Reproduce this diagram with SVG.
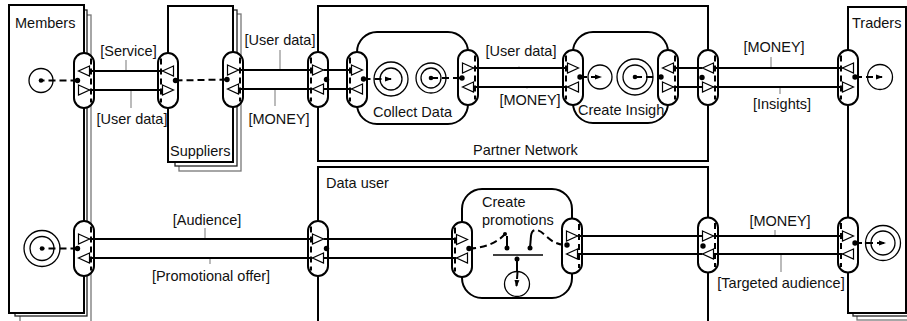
<svg xmlns="http://www.w3.org/2000/svg" width="907" height="321" viewBox="0 0 907 321">
<style>
text{font-family:"Liberation Sans",Arial,sans-serif;font-size:14.5px;fill:#111}
.box{fill:#fff;stroke:#000;stroke-width:2}
.sh1{fill:#fff;stroke:#222;stroke-width:1.3}
.sh2{fill:#fff;stroke:#777;stroke-width:1.3}
.act{fill:#fff;stroke:#000;stroke-width:2}
.pill{fill:#fff;stroke:#000;stroke-width:2}
.pdash{stroke:#000;stroke-width:2;stroke-dasharray:6 4;fill:none}
.flow{stroke:#000;stroke-width:2;fill:none}
.tri{fill:#fff;stroke:#000;stroke-width:1.2}
.dep{stroke:#000;stroke-width:2;stroke-dasharray:7 4;fill:none}
.stem{stroke:#000;stroke-width:2;fill:none}
.bar{stroke:#000;stroke-width:1.5}
.tick{stroke:#bbb;stroke-width:2}
.tick2{stroke:#ddd;stroke-width:2}
.dot{fill:#000}
.stim{fill:none;stroke:#000;stroke-width:1.3}
</style>
<defs>
  <path id="tR" d="M-5.5,-5L5.5,0L-5.5,5Z"/>
  <path id="tL" d="M5.5,-5L-5.5,0L5.5,5Z"/>
  <rect id="pill" x="-10" y="-27.5" width="20" height="55" rx="10"/>
  <marker id="ah" viewBox="0 0 7 6" refX="6" refY="3" markerWidth="7" markerHeight="6" markerUnits="userSpaceOnUse" orient="auto">
    <path d="M0,0.5L7,3L0,5.5Z" fill="#000"/>
  </marker>
</defs>
<rect width="907" height="321" fill="#fff"/>

<!-- Members (stacked actor) -->
<g id="members">
  <rect class="sh2" x="20" y="15" width="71" height="310"/>
  <rect class="sh1" x="15" y="10" width="72" height="306"/>
  <rect class="box" x="9" y="5" width="75" height="308"/>
  <text x="15" y="28">Members</text>
  <circle class="stim" cx="41" cy="80.5" r="12"/>
  <circle class="stim" cx="42" cy="248.5" r="18"/>
  <circle class="stim" cx="42" cy="248.5" r="12"/>
  <circle class="dot" cx="41" cy="80.5" r="2.3"/>
  <circle class="dot" cx="42" cy="248.5" r="2.3"/>
  <g id="members-if1" transform="translate(84,80.5)">
    <use href="#pill" class="pill"/>
    <line class="pdash" x1="7" y1="-22" x2="7" y2="22"/>
    <use href="#tL" class="tri" y="-9.5"/>
    <use href="#tR" class="tri" y="9.5"/>
    <circle class="dot" cx="-6.5" r="2.7"/>
  </g>
  <g id="members-if2" transform="translate(84,248.5)">
    <use href="#pill" class="pill"/>
    <line class="pdash" x1="7" y1="-22" x2="7" y2="22"/>
    <use href="#tR" class="tri" y="-9.5"/>
    <use href="#tL" class="tri" y="9.5"/>
    <circle class="dot" cx="-6.5" r="2.7"/>
  </g>
</g>

<!-- Suppliers (stacked actor) -->
<g id="suppliers">
  <rect class="sh2" x="179" y="14" width="62" height="157"/>
  <rect class="sh1" x="175" y="10" width="62" height="156"/>
  <rect class="box" x="168" y="6" width="65" height="156"/>
  <text x="170" y="156">Suppliers</text>
  <g id="suppliers-if1" transform="translate(168,80.5)">
    <use href="#pill" class="pill"/>
    <line class="pdash" x1="-7" y1="-22" x2="-7" y2="22"/>
    <use href="#tL" class="tri" y="-9.5"/>
    <use href="#tR" class="tri" y="9.5"/>
    <circle class="dot" cx="7.5" r="2.7"/>
  </g>
  <g id="suppliers-if2" transform="translate(233,79.5)">
    <use href="#pill" class="pill"/>
    <line class="pdash" x1="7" y1="-22" x2="7" y2="22"/>
    <use href="#tR" class="tri" y="-9.5"/>
    <use href="#tL" class="tri" y="9.5"/>
    <circle class="dot" cx="-6" r="2.7"/>
  </g>
</g>

<!-- Partner Network (market segment) -->
<g id="partner-network">
  <rect class="box" x="318" y="6" width="390" height="155"/>
  <text x="473" y="155">Partner Network</text>
  <g id="partner-if1" transform="translate(318,79.5)">
    <use href="#pill" class="pill"/>
    <line class="pdash" x1="-7" y1="-22" x2="-7" y2="22"/>
    <use href="#tR" class="tri" y="-9.5"/>
    <use href="#tL" class="tri" y="9.5"/>
    <circle class="dot" cx="8.5" r="2.7"/>
  </g>
  <g id="partner-if2" transform="translate(708,77.5)">
    <use href="#pill" class="pill"/>
    <line class="pdash" x1="7" y1="-22" x2="7" y2="22"/>
    <use href="#tL" class="tri" y="-9.5"/>
    <use href="#tR" class="tri" y="9.5"/>
    <circle class="dot" cx="-6" r="2.7"/>
  </g>
</g>

<!-- Collect Data activity -->
<g id="collect-data">
  <rect class="act" x="357" y="32" width="111" height="92" rx="20"/>
  <text x="373" y="117">Collect Data</text>
  <circle class="stim" cx="391" cy="79" r="17"/>
  <circle class="stim" cx="391" cy="79" r="11"/>
  <circle class="stim" cx="431" cy="78" r="15"/>
  <circle class="stim" cx="431" cy="78" r="10"/>
  <circle class="dot" cx="431" cy="78" r="2.3"/>
  <g id="collect-if1" transform="translate(357,79.5)">
    <use href="#pill" class="pill"/>
    <line class="pdash" x1="-7" y1="-22" x2="-7" y2="22"/>
    <use href="#tR" class="tri" y="-9.5"/>
    <use href="#tL" class="tri" y="9.5"/>
    <circle class="dot" cx="6.5" cy="-0.5" r="2.7"/>
  </g>
  <g id="collect-if2" transform="translate(468,77.5)">
    <use href="#pill" class="pill"/>
    <line class="pdash" x1="7" y1="-22" x2="7" y2="22"/>
    <use href="#tR" class="tri" y="-9.5"/>
    <use href="#tL" class="tri" y="9.5"/>
    <circle class="dot" cx="-6" cy="0.5" r="2.7"/>
  </g>
</g>

<!-- Create Insight activity -->
<g id="create-insight">
  <rect class="act" x="573" y="32" width="95" height="91" rx="20"/>
  <text x="578" y="115">Create Insigh</text>
  <circle class="stim" cx="600" cy="77" r="12"/>
  <circle class="stim" cx="635" cy="77" r="18"/>
  <circle class="stim" cx="635" cy="77" r="12"/>
  <circle class="dot" cx="635" cy="77" r="2.3"/>
  <g id="insight-if1" transform="translate(573,77.5)">
    <use href="#pill" class="pill"/>
    <line class="pdash" x1="-7" y1="-22" x2="-7" y2="22"/>
    <use href="#tR" class="tri" y="-9.5"/>
    <use href="#tL" class="tri" y="9.5"/>
    <circle class="dot" cx="7" cy="-0.5" r="2.7"/>
  </g>
  <g id="insight-if2" transform="translate(668,77.5)">
    <use href="#pill" class="pill"/>
    <line class="pdash" x1="7" y1="-22" x2="7" y2="22"/>
    <use href="#tL" class="tri" y="-9.5"/>
    <use href="#tR" class="tri" y="9.5"/>
    <circle class="dot" cx="-7" cy="-0.5" r="2.7"/>
  </g>
</g>

<!-- Traders (stacked actor) -->
<g id="traders">
  <rect class="sh2" x="857" y="14" width="60" height="306"/>
  <rect class="sh1" x="853" y="10" width="60" height="306"/>
  <rect class="box" x="848" y="7" width="58" height="306"/>
  <text x="852" y="28">Traders</text>
  <circle class="stim" cx="880" cy="77" r="12.5"/>
  <circle class="stim" cx="883" cy="243" r="17.5"/>
  <circle class="stim" cx="883" cy="243" r="12"/>
  <g id="traders-if1" transform="translate(848,77.5)">
    <use href="#pill" class="pill"/>
    <line class="pdash" x1="-7" y1="-22" x2="-7" y2="22"/>
    <use href="#tL" class="tri" y="-9.5"/>
    <use href="#tR" class="tri" y="9.5"/>
    <circle class="dot" cx="7" cy="-0.5" r="2.7"/>
  </g>
  <g id="traders-if2" transform="translate(848,245)">
    <use href="#pill" class="pill"/>
    <line class="pdash" x1="-7" y1="-22" x2="-7" y2="22"/>
    <use href="#tR" class="tri" y="-9"/>
    <use href="#tL" class="tri" y="9"/>
    <circle class="dot" cx="7" cy="-2" r="2.7"/>
  </g>
</g>

<!-- Data user (market segment) -->
<g id="data-user">
  <rect class="box" x="318" y="167" width="390" height="170"/>
  <text x="326" y="188">Data user</text>
  <g id="datauser-if1" transform="translate(318,248.5)">
    <use href="#pill" class="pill"/>
    <line class="pdash" x1="-7" y1="-22" x2="-7" y2="22"/>
    <use href="#tR" class="tri" y="-9.5"/>
    <use href="#tL" class="tri" y="9.5"/>
    <circle class="dot" cx="8.5" r="2.7"/>
  </g>
  <g id="datauser-if2" transform="translate(708,245)">
    <use href="#pill" class="pill"/>
    <line class="pdash" x1="7" y1="-22" x2="7" y2="22"/>
    <use href="#tR" class="tri" y="-9"/>
    <use href="#tL" class="tri" y="9"/>
    <circle class="dot" cx="-5" cy="1" r="2.7"/>
  </g>
</g>

<!-- Create promotions activity with AND element -->
<g id="create-promotions">
  <rect class="act" x="462" y="189" width="110" height="109" rx="20"/>
  <text x="482" y="207">Create</text>
  <text x="482" y="225">promotions</text>
  <line class="bar" x1="493" y1="255" x2="543" y2="255"/>
  <line class="stem" x1="507" y1="236" x2="507" y2="248"/>
  <line class="stem" x1="531" y1="236" x2="530" y2="248"/>
  <line class="stem" x1="517" y1="259" x2="517" y2="272"/>
  <circle class="dot" cx="507" cy="248" r="2.5"/>
  <circle class="dot" cx="530" cy="248" r="2.5"/>
  <circle class="dot" cx="517" cy="259" r="2.5"/>
  <circle class="dot" cx="505" cy="234" r="2"/>
  <circle class="stim" cx="517" cy="284" r="12.5"/>
  <g id="promo-if1" transform="translate(462,249.5)">
    <use href="#pill" class="pill"/>
    <line class="pdash" x1="-7" y1="-22" x2="-7" y2="22"/>
    <use href="#tR" class="tri" y="-10"/>
    <use href="#tL" class="tri" y="8.5"/>
    <circle class="dot" cx="7" cy="-1" r="2.7"/>
  </g>
  <g id="promo-if2" transform="translate(572,246)">
    <use href="#pill" class="pill"/>
    <line class="pdash" x1="7" y1="-22" x2="7" y2="22"/>
    <use href="#tR" class="tri" y="-10"/>
    <use href="#tL" class="tri" y="8"/>
    <circle class="dot" cx="-5" cy="-1" r="2.7"/>
  </g>
</g>

<!-- Value exchanges, labels and dependency paths -->
<g id="connectors">
  <!-- label leader ticks -->
  <line class="tick" x1="126" y1="60" x2="126" y2="70"/>
  <line class="tick" x1="131" y1="91" x2="131" y2="108"/>
  <line class="tick" x1="280" y1="50" x2="280" y2="69"/>
  <line class="tick" x1="275" y1="90" x2="275" y2="106"/>
  <line class="tick2" x1="519" y1="66" x2="519" y2="69"/>
  <line class="tick2" x1="527" y1="86" x2="527" y2="89"/>
  <line class="tick" x1="771" y1="57" x2="771" y2="67"/>
  <line class="tick" x1="780" y1="88" x2="780" y2="94"/>
  <line class="tick" x1="205" y1="228" x2="205" y2="238"/>
  <line class="tick" x1="210" y1="259" x2="210" y2="264"/>
  <line class="tick" x1="775" y1="230" x2="775" y2="235"/>
  <line class="tick" x1="781" y1="255" x2="781" y2="272"/>

  <!-- Members - Suppliers -->
  <line class="flow" x1="89.5" y1="71" x2="162.5" y2="71"/>
  <line class="flow" x1="89.5" y1="90" x2="162.5" y2="90"/>
  <!-- Suppliers - Partner Network -->
  <line class="flow" x1="238.5" y1="70" x2="312.5" y2="70"/>
  <line class="flow" x1="238.5" y1="89" x2="312.5" y2="89"/>
  <!-- Partner Network - Collect Data (delegation) -->
  <line class="flow" x1="323.5" y1="70" x2="351.5" y2="70"/>
  <line class="flow" x1="323.5" y1="89" x2="351.5" y2="89"/>
  <!-- Collect Data - Create Insight -->
  <line class="flow" x1="473.5" y1="68" x2="567.5" y2="68"/>
  <line class="flow" x1="473.5" y1="87" x2="567.5" y2="87"/>
  <!-- Create Insight - Partner Network (delegation) -->
  <line class="flow" x1="673.5" y1="68" x2="702.5" y2="68"/>
  <line class="flow" x1="673.5" y1="87" x2="702.5" y2="87"/>
  <!-- Partner Network - Traders -->
  <line class="flow" x1="713.5" y1="68" x2="842.5" y2="68"/>
  <line class="flow" x1="713.5" y1="87" x2="842.5" y2="87"/>
  <!-- Members - Data user -->
  <line class="flow" x1="89.5" y1="239" x2="312.5" y2="239"/>
  <line class="flow" x1="89.5" y1="258" x2="312.5" y2="258"/>
  <!-- Data user - Create promotions (delegation) -->
  <line class="flow" x1="323.5" y1="239" x2="456.5" y2="239"/>
  <line class="flow" x1="323.5" y1="258" x2="456.5" y2="258"/>
  <!-- Create promotions - Data user (delegation) -->
  <line class="flow" x1="577.5" y1="236" x2="702.5" y2="236"/>
  <line class="flow" x1="577.5" y1="254" x2="702.5" y2="254"/>
  <!-- Data user - Traders -->
  <line class="flow" x1="713.5" y1="236" x2="842.5" y2="236"/>
  <line class="flow" x1="713.5" y1="254" x2="842.5" y2="254"/>

  <!-- exchange labels -->
  <text x="128.5" y="56" text-anchor="middle">[Service]</text>
  <text x="132" y="124" text-anchor="middle">[User data]</text>
  <text x="280" y="45" text-anchor="middle">[User data]</text>
  <text x="279" y="124" text-anchor="middle">[MONEY]</text>
  <text x="521" y="56" text-anchor="middle">[User data]</text>
  <text x="530" y="105" text-anchor="middle">[MONEY]</text>
  <text x="774" y="52" text-anchor="middle">[MONEY]</text>
  <text x="782" y="109" text-anchor="middle">[Insights]</text>
  <text x="207" y="225" text-anchor="middle">[Audience]</text>
  <text x="211" y="281" text-anchor="middle">[Promotional offer]</text>
  <text x="780" y="226" text-anchor="middle">[MONEY]</text>
  <text x="781" y="288" text-anchor="middle">[Targeted audience]</text>

  <!-- dependency paths -->
  <line class="dep" x1="77.5" y1="80.5" x2="41" y2="80.5"/>
  <line class="dep" x1="77.5" y1="248.5" x2="42" y2="248.5"/>
  <line class="dep" x1="175.5" y1="80.5" x2="227" y2="79.5"/>
  <line class="dep" x1="363.5" y1="79" x2="391" y2="79" marker-end="url(#ah)"/>
  <line class="dep" x1="431" y1="78" x2="462" y2="78"/>
  <line class="dep" x1="580" y1="77" x2="601" y2="77" marker-end="url(#ah)"/>
  <line class="dep" x1="635" y1="77" x2="661" y2="77"/>
  <line class="dep" x1="855" y1="77" x2="882" y2="77" marker-end="url(#ah)"/>
  <line class="dep" x1="855" y1="243" x2="885" y2="243" marker-end="url(#ah)"/>
  <path class="dep" d="M469,248.5 C484,248 497,243 505,234"/>
  <path class="dep" d="M531,236 C532,227 539,229 546,236 S560,245 567,245"/>
  <line class="dep" x1="517.5" y1="272" x2="516.5" y2="286" marker-end="url(#ah)"/>
</g>
</svg>
